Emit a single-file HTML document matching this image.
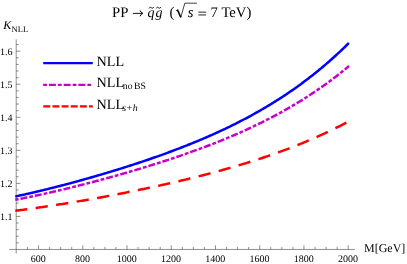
<!DOCTYPE html>
<html><head><meta charset="utf-8"><title>plot</title>
<style>
html,body{margin:0;padding:0;background:#fff;}
text{font-family:"Liberation Serif",serif;text-rendering:geometricPrecision;}
body{width:407px;height:264px;overflow:hidden;position:relative;font-family:"Liberation Serif",serif;}
</style></head><body>
<svg width="407" height="264" viewBox="0 0 407 264" style="position:absolute;left:0;top:0;will-change:transform">
<g stroke="#444" stroke-width="0.6" fill="none" shape-rendering="auto">
<line x1="9.20" y1="249.45" x2="354.90" y2="249.45"/>
<line x1="16.20" y1="39.30" x2="16.20" y2="253.50"/>
<line x1="27.49" y1="249.45" x2="27.49" y2="246.95"/>
<line x1="38.55" y1="249.45" x2="38.55" y2="245.25"/>
<line x1="49.61" y1="249.45" x2="49.61" y2="246.95"/>
<line x1="60.67" y1="249.45" x2="60.67" y2="246.95"/>
<line x1="71.73" y1="249.45" x2="71.73" y2="246.95"/>
<line x1="82.79" y1="249.45" x2="82.79" y2="245.25"/>
<line x1="93.84" y1="249.45" x2="93.84" y2="246.95"/>
<line x1="104.90" y1="249.45" x2="104.90" y2="246.95"/>
<line x1="115.96" y1="249.45" x2="115.96" y2="246.95"/>
<line x1="127.02" y1="249.45" x2="127.02" y2="245.25"/>
<line x1="138.08" y1="249.45" x2="138.08" y2="246.95"/>
<line x1="149.14" y1="249.45" x2="149.14" y2="246.95"/>
<line x1="160.20" y1="249.45" x2="160.20" y2="246.95"/>
<line x1="171.26" y1="249.45" x2="171.26" y2="245.25"/>
<line x1="182.32" y1="249.45" x2="182.32" y2="246.95"/>
<line x1="193.38" y1="249.45" x2="193.38" y2="246.95"/>
<line x1="204.43" y1="249.45" x2="204.43" y2="246.95"/>
<line x1="215.49" y1="249.45" x2="215.49" y2="245.25"/>
<line x1="226.55" y1="249.45" x2="226.55" y2="246.95"/>
<line x1="237.61" y1="249.45" x2="237.61" y2="246.95"/>
<line x1="248.67" y1="249.45" x2="248.67" y2="246.95"/>
<line x1="259.73" y1="249.45" x2="259.73" y2="245.25"/>
<line x1="270.79" y1="249.45" x2="270.79" y2="246.95"/>
<line x1="281.85" y1="249.45" x2="281.85" y2="246.95"/>
<line x1="292.91" y1="249.45" x2="292.91" y2="246.95"/>
<line x1="303.96" y1="249.45" x2="303.96" y2="245.25"/>
<line x1="315.02" y1="249.45" x2="315.02" y2="246.95"/>
<line x1="326.08" y1="249.45" x2="326.08" y2="246.95"/>
<line x1="337.14" y1="249.45" x2="337.14" y2="246.95"/>
<line x1="348.20" y1="249.45" x2="348.20" y2="245.25"/>
<line x1="16.20" y1="242.84" x2="18.70" y2="242.84"/>
<line x1="16.20" y1="236.23" x2="18.70" y2="236.23"/>
<line x1="16.20" y1="229.62" x2="18.70" y2="229.62"/>
<line x1="16.20" y1="223.02" x2="18.70" y2="223.02"/>
<line x1="16.20" y1="216.41" x2="20.40" y2="216.41"/>
<line x1="16.20" y1="209.80" x2="18.70" y2="209.80"/>
<line x1="16.20" y1="203.19" x2="18.70" y2="203.19"/>
<line x1="16.20" y1="196.58" x2="18.70" y2="196.58"/>
<line x1="16.20" y1="189.98" x2="18.70" y2="189.98"/>
<line x1="16.20" y1="183.37" x2="20.40" y2="183.37"/>
<line x1="16.20" y1="176.76" x2="18.70" y2="176.76"/>
<line x1="16.20" y1="170.15" x2="18.70" y2="170.15"/>
<line x1="16.20" y1="163.54" x2="18.70" y2="163.54"/>
<line x1="16.20" y1="156.93" x2="18.70" y2="156.93"/>
<line x1="16.20" y1="150.32" x2="20.40" y2="150.32"/>
<line x1="16.20" y1="143.72" x2="18.70" y2="143.72"/>
<line x1="16.20" y1="137.11" x2="18.70" y2="137.11"/>
<line x1="16.20" y1="130.50" x2="18.70" y2="130.50"/>
<line x1="16.20" y1="123.89" x2="18.70" y2="123.89"/>
<line x1="16.20" y1="117.28" x2="20.40" y2="117.28"/>
<line x1="16.20" y1="110.68" x2="18.70" y2="110.68"/>
<line x1="16.20" y1="104.07" x2="18.70" y2="104.07"/>
<line x1="16.20" y1="97.46" x2="18.70" y2="97.46"/>
<line x1="16.20" y1="90.85" x2="18.70" y2="90.85"/>
<line x1="16.20" y1="84.24" x2="20.40" y2="84.24"/>
<line x1="16.20" y1="77.63" x2="18.70" y2="77.63"/>
<line x1="16.20" y1="71.02" x2="18.70" y2="71.02"/>
<line x1="16.20" y1="64.42" x2="18.70" y2="64.42"/>
<line x1="16.20" y1="57.81" x2="18.70" y2="57.81"/>
<line x1="16.20" y1="51.20" x2="20.40" y2="51.20"/>
<line x1="16.20" y1="44.59" x2="18.70" y2="44.59"/>
</g>
<path d="M15.30 196.49 L16.70 196.19 L18.09 195.89 L19.49 195.59 L20.88 195.29 L22.28 194.98 L23.67 194.67 L25.07 194.36 L26.47 194.05 L27.86 193.73 L29.26 193.42 L30.65 193.10 L32.05 192.78 L33.45 192.45 L34.84 192.13 L36.24 191.80 L37.63 191.47 L39.03 191.14 L40.42 190.80 L41.82 190.47 L43.22 190.13 L44.61 189.79 L46.01 189.45 L47.40 189.11 L48.80 188.76 L50.20 188.41 L51.59 188.06 L52.99 187.71 L54.38 187.36 L55.78 187.01 L57.17 186.65 L58.57 186.29 L59.97 185.93 L61.36 185.57 L62.76 185.21 L64.15 184.84 L65.55 184.47 L66.95 184.10 L68.34 183.73 L69.74 183.36 L71.13 182.99 L72.53 182.61 L73.92 182.23 L75.32 181.86 L76.72 181.47 L78.11 181.09 L79.51 180.71 L80.90 180.32 L82.30 179.93 L83.69 179.55 L85.09 179.15 L86.49 178.76 L87.88 178.37 L89.28 177.97 L90.67 177.57 L92.07 177.18 L93.47 176.77 L94.86 176.37 L96.26 175.97 L97.65 175.56 L99.05 175.15 L100.44 174.74 L101.84 174.33 L103.24 173.92 L104.63 173.50 L106.03 173.09 L107.42 172.67 L108.82 172.25 L110.22 171.83 L111.61 171.40 L113.01 170.98 L114.40 170.55 L115.80 170.12 L117.19 169.69 L118.59 169.26 L119.99 168.83 L121.38 168.39 L122.78 167.95 L124.17 167.51 L125.57 167.07 L126.97 166.62 L128.36 166.18 L129.76 165.73 L131.15 165.28 L132.55 164.83 L133.94 164.37 L135.34 163.92 L136.74 163.46 L138.13 163.00 L139.53 162.54 L140.92 162.07 L142.32 161.60 L143.72 161.13 L145.11 160.66 L146.51 160.19 L147.90 159.71 L149.30 159.24 L150.69 158.76 L152.09 158.27 L153.49 157.79 L154.88 157.30 L156.28 156.81 L157.67 156.32 L159.07 155.82 L160.46 155.32 L161.86 154.82 L163.26 154.32 L164.65 153.82 L166.05 153.31 L167.44 152.80 L168.84 152.28 L170.24 151.77 L171.63 151.25 L173.03 150.73 L174.42 150.20 L175.82 149.67 L177.21 149.14 L178.61 148.61 L180.01 148.07 L181.40 147.53 L182.80 146.99 L184.19 146.44 L185.59 145.89 L186.99 145.34 L188.38 144.78 L189.78 144.22 L191.17 143.66 L192.57 143.09 L193.96 142.52 L195.36 141.95 L196.76 141.37 L198.15 140.79 L199.55 140.21 L200.94 139.62 L202.34 139.03 L203.74 138.44 L205.13 137.84 L206.53 137.23 L207.92 136.63 L209.32 136.01 L210.71 135.40 L212.11 134.78 L213.51 134.16 L214.90 133.53 L216.30 132.90 L217.69 132.26 L219.09 131.62 L220.48 130.97 L221.88 130.32 L223.28 129.67 L224.67 129.01 L226.07 128.35 L227.46 127.68 L228.86 127.01 L230.26 126.33 L231.65 125.64 L233.05 124.96 L234.44 124.26 L235.84 123.57 L237.23 122.86 L238.63 122.15 L240.03 121.44 L241.42 120.72 L242.82 119.99 L244.21 119.26 L245.61 118.53 L247.01 117.79 L248.40 117.04 L249.80 116.29 L251.19 115.53 L252.59 114.76 L253.98 113.99 L255.38 113.21 L256.78 112.43 L258.17 111.64 L259.57 110.85 L260.96 110.04 L262.36 109.24 L263.76 108.42 L265.15 107.60 L266.55 106.77 L267.94 105.94 L269.34 105.09 L270.73 104.24 L272.13 103.39 L273.53 102.53 L274.92 101.66 L276.32 100.78 L277.71 99.89 L279.11 99.00 L280.51 98.10 L281.90 97.20 L283.30 96.28 L284.69 95.36 L286.09 94.43 L287.48 93.49 L288.88 92.54 L290.28 91.59 L291.67 90.63 L293.07 89.66 L294.46 88.68 L295.86 87.69 L297.25 86.70 L298.65 85.69 L300.05 84.68 L301.44 83.66 L302.84 82.63 L304.23 81.59 L305.63 80.54 L307.03 79.48 L308.42 78.41 L309.82 77.34 L311.21 76.25 L312.61 75.16 L314.00 74.05 L315.40 72.94 L316.80 71.81 L318.19 70.68 L319.59 69.53 L320.98 68.38 L322.38 67.21 L323.78 66.04 L325.17 64.85 L326.57 63.66 L327.96 62.45 L329.36 61.23 L330.75 60.01 L332.15 58.77 L333.55 57.52 L334.94 56.25 L336.34 54.98 L337.73 53.70 L339.13 52.40 L340.53 51.10 L341.92 49.78 L343.32 48.45 L344.71 47.10 L346.11 45.75 L347.50 44.38 L348.90 43.00" fill="none" stroke="#0000ff" stroke-width="2.5" stroke-linejoin="round"/>
<path d="M15.30 199.74 L16.70 199.48 L18.09 199.21 L19.49 198.94 L20.88 198.67 L22.28 198.40 L23.68 198.12 L25.07 197.84 L26.47 197.56 L27.87 197.28 L29.26 196.99 L30.66 196.70 L32.05 196.41 L33.45 196.12 L34.85 195.83 L36.24 195.53 L37.64 195.23 L39.04 194.93 L40.43 194.63 L41.83 194.32 L43.22 194.02 L44.62 193.71 L46.02 193.40 L47.41 193.09 L48.81 192.77 L50.21 192.46 L51.60 192.14 L53.00 191.82 L54.39 191.50 L55.79 191.17 L57.19 190.85 L58.58 190.52 L59.98 190.19 L61.38 189.86 L62.77 189.53 L64.17 189.20 L65.56 188.86 L66.96 188.52 L68.36 188.18 L69.75 187.84 L71.15 187.50 L72.55 187.16 L73.94 186.81 L75.34 186.46 L76.73 186.11 L78.13 185.76 L79.53 185.41 L80.92 185.06 L82.32 184.70 L83.72 184.35 L85.11 183.99 L86.51 183.63 L87.90 183.27 L89.30 182.91 L90.70 182.54 L92.09 182.18 L93.49 181.81 L94.89 181.44 L96.28 181.07 L97.68 180.70 L99.07 180.33 L100.47 179.95 L101.87 179.57 L103.26 179.20 L104.66 178.82 L106.06 178.44 L107.45 178.05 L108.85 177.67 L110.24 177.28 L111.64 176.90 L113.04 176.51 L114.43 176.12 L115.83 175.73 L117.23 175.33 L118.62 174.94 L120.02 174.54 L121.41 174.15 L122.81 173.75 L124.21 173.35 L125.60 172.94 L127.00 172.54 L128.39 172.13 L129.79 171.73 L131.19 171.32 L132.58 170.91 L133.98 170.50 L135.38 170.08 L136.77 169.67 L138.17 169.25 L139.56 168.83 L140.96 168.41 L142.36 167.99 L143.75 167.56 L145.15 167.14 L146.55 166.71 L147.94 166.28 L149.34 165.85 L150.73 165.42 L152.13 164.98 L153.53 164.54 L154.92 164.10 L156.32 163.66 L157.72 163.22 L159.11 162.78 L160.51 162.33 L161.90 161.88 L163.30 161.43 L164.70 160.98 L166.09 160.52 L167.49 160.07 L168.89 159.61 L170.28 159.15 L171.68 158.68 L173.07 158.22 L174.47 157.75 L175.87 157.28 L177.26 156.80 L178.66 156.33 L180.06 155.85 L181.45 155.37 L182.85 154.89 L184.24 154.41 L185.64 153.92 L187.04 153.43 L188.43 152.94 L189.83 152.44 L191.23 151.94 L192.62 151.44 L194.02 150.94 L195.41 150.44 L196.81 149.93 L198.21 149.42 L199.60 148.90 L201.00 148.38 L202.40 147.86 L203.79 147.34 L205.19 146.82 L206.58 146.29 L207.98 145.75 L209.38 145.22 L210.77 144.68 L212.17 144.14 L213.57 143.59 L214.96 143.04 L216.36 142.49 L217.75 141.94 L219.15 141.38 L220.55 140.82 L221.94 140.25 L223.34 139.68 L224.74 139.11 L226.13 138.53 L227.53 137.95 L228.92 137.37 L230.32 136.78 L231.72 136.19 L233.11 135.59 L234.51 134.99 L235.91 134.39 L237.30 133.78 L238.70 133.17 L240.09 132.55 L241.49 131.93 L242.89 131.31 L244.28 130.68 L245.68 130.04 L247.07 129.40 L248.47 128.76 L249.87 128.11 L251.26 127.46 L252.66 126.80 L254.06 126.14 L255.45 125.48 L256.85 124.81 L258.24 124.13 L259.64 123.45 L261.04 122.76 L262.43 122.07 L263.83 121.37 L265.23 120.67 L266.62 119.96 L268.02 119.25 L269.41 118.53 L270.81 117.81 L272.21 117.08 L273.60 116.34 L275.00 115.60 L276.40 114.85 L277.79 114.10 L279.19 113.34 L280.58 112.58 L281.98 111.80 L283.38 111.03 L284.77 110.24 L286.17 109.45 L287.57 108.66 L288.96 107.86 L290.36 107.05 L291.75 106.23 L293.15 105.41 L294.55 104.58 L295.94 103.74 L297.34 102.90 L298.74 102.05 L300.13 101.19 L301.53 100.33 L302.92 99.46 L304.32 98.58 L305.72 97.69 L307.11 96.80 L308.51 95.90 L309.91 94.99 L311.30 94.07 L312.70 93.15 L314.09 92.21 L315.49 91.27 L316.89 90.32 L318.28 89.37 L319.68 88.40 L321.08 87.43 L322.47 86.45 L323.87 85.46 L325.26 84.46 L326.66 83.45 L328.06 82.44 L329.45 81.41 L330.85 80.38 L332.25 79.34 L333.64 78.28 L335.04 77.22 L336.43 76.15 L337.83 75.07 L339.23 73.98 L340.62 72.88 L342.02 71.77 L343.42 70.66 L344.81 69.53 L346.21 68.39 L347.60 67.24 L349.00 66.08" fill="none" stroke="#c800c8" stroke-width="2.5" stroke-dasharray="3.8 1.9 7.0 1.98" stroke-dashoffset="0.46"/>
<path d="M15.30 210.78 L16.69 210.60 L18.09 210.42 L19.48 210.24 L20.88 210.06 L22.27 209.87 L23.67 209.68 L25.06 209.50 L26.46 209.31 L27.85 209.12 L29.25 208.92 L30.64 208.73 L32.03 208.53 L33.43 208.34 L34.82 208.14 L36.22 207.94 L37.61 207.74 L39.01 207.54 L40.40 207.33 L41.80 207.13 L43.19 206.92 L44.59 206.71 L45.98 206.50 L47.37 206.29 L48.77 206.08 L50.16 205.87 L51.56 205.66 L52.95 205.44 L54.35 205.22 L55.74 205.01 L57.14 204.79 L58.53 204.57 L59.93 204.35 L61.32 204.12 L62.72 203.90 L64.11 203.67 L65.50 203.45 L66.90 203.22 L68.29 202.99 L69.69 202.76 L71.08 202.53 L72.48 202.30 L73.87 202.07 L75.27 201.83 L76.66 201.60 L78.06 201.36 L79.45 201.12 L80.84 200.89 L82.24 200.65 L83.63 200.40 L85.03 200.16 L86.42 199.92 L87.82 199.67 L89.21 199.43 L90.61 199.18 L92.00 198.93 L93.40 198.69 L94.79 198.44 L96.18 198.19 L97.58 197.93 L98.97 197.68 L100.37 197.43 L101.76 197.17 L103.16 196.91 L104.55 196.66 L105.95 196.40 L107.34 196.14 L108.74 195.88 L110.13 195.61 L111.52 195.35 L112.92 195.09 L114.31 194.82 L115.71 194.55 L117.10 194.29 L118.50 194.02 L119.89 193.75 L121.29 193.48 L122.68 193.20 L124.08 192.93 L125.47 192.65 L126.86 192.38 L128.26 192.10 L129.65 191.82 L131.05 191.54 L132.44 191.26 L133.84 190.98 L135.23 190.70 L136.63 190.41 L138.02 190.13 L139.42 189.84 L140.81 189.55 L142.21 189.26 L143.60 188.97 L144.99 188.68 L146.39 188.39 L147.78 188.09 L149.18 187.80 L150.57 187.50 L151.97 187.20 L153.36 186.90 L154.76 186.60 L156.15 186.30 L157.55 185.99 L158.94 185.69 L160.33 185.38 L161.73 185.07 L163.12 184.76 L164.52 184.45 L165.91 184.14 L167.31 183.82 L168.70 183.51 L170.10 183.19 L171.49 182.87 L172.89 182.55 L174.28 182.23 L175.67 181.90 L177.07 181.58 L178.46 181.25 L179.86 180.92 L181.25 180.59 L182.65 180.26 L184.04 179.93 L185.44 179.59 L186.83 179.26 L188.23 178.92 L189.62 178.58 L191.01 178.24 L192.41 177.89 L193.80 177.55 L195.20 177.20 L196.59 176.85 L197.99 176.50 L199.38 176.14 L200.78 175.79 L202.17 175.43 L203.57 175.07 L204.96 174.71 L206.35 174.35 L207.75 173.98 L209.14 173.61 L210.54 173.24 L211.93 172.87 L213.33 172.50 L214.72 172.12 L216.12 171.74 L217.51 171.36 L218.91 170.98 L220.30 170.60 L221.69 170.21 L223.09 169.82 L224.48 169.43 L225.88 169.04 L227.27 168.64 L228.67 168.25 L230.06 167.85 L231.46 167.46 L232.85 167.05 L234.25 166.65 L235.64 166.24 L237.04 165.83 L238.43 165.42 L239.82 165.01 L241.22 164.59 L242.61 164.17 L244.01 163.75 L245.40 163.32 L246.80 162.90 L248.19 162.46 L249.59 162.03 L250.98 161.59 L252.38 161.15 L253.77 160.71 L255.16 160.26 L256.56 159.82 L257.95 159.36 L259.35 158.91 L260.74 158.45 L262.14 157.99 L263.53 157.52 L264.93 157.06 L266.32 156.58 L267.72 156.11 L269.11 155.63 L270.50 155.15 L271.90 154.67 L273.29 154.18 L274.69 153.69 L276.08 153.19 L277.48 152.69 L278.87 152.19 L280.27 151.68 L281.66 151.17 L283.06 150.66 L284.45 150.14 L285.84 149.62 L287.24 149.09 L288.63 148.56 L290.03 148.03 L291.42 147.49 L292.82 146.95 L294.21 146.41 L295.61 145.86 L297.00 145.31 L298.40 144.75 L299.79 144.19 L301.18 143.62 L302.58 143.05 L303.97 142.47 L305.37 141.89 L306.76 141.31 L308.16 140.72 L309.55 140.13 L310.95 139.53 L312.34 138.93 L313.74 138.32 L315.13 137.71 L316.53 137.09 L317.92 136.47 L319.31 135.85 L320.71 135.22 L322.10 134.58 L323.50 133.94 L324.89 133.29 L326.29 132.64 L327.68 131.99 L329.08 131.32 L330.47 130.66 L331.87 129.98 L333.26 129.31 L334.65 128.62 L336.05 127.94 L337.44 127.24 L338.84 126.54 L340.23 125.84 L341.63 125.13 L343.02 124.41 L344.42 123.69 L345.81 122.96 L347.21 122.23 L348.60 121.49" fill="none" stroke="#ff0000" stroke-width="2.5" stroke-dasharray="12.3 8.46" stroke-dashoffset="0.26"/>
<line x1="43.2" y1="63.15" x2="92.8" y2="63.15" stroke="#0000ff" stroke-width="2.3"/>
<line x1="43.15" y1="84.9" x2="91" y2="84.9" stroke="#c800c8" stroke-width="2.4" stroke-dasharray="3.8 1.95 7.0 2.0"/>
<line x1="43.3" y1="106.35" x2="92.8" y2="106.35" stroke="#ff0000" stroke-width="2.4" stroke-dasharray="6.95 2.2"/>
<g class="t" fill="#000">
<text x="38.35" y="261.55" font-size="10" text-anchor="middle">600</text>
<text x="82.59" y="261.55" font-size="10" text-anchor="middle">800</text>
<text x="126.82" y="261.55" font-size="10" text-anchor="middle">1000</text>
<text x="171.06" y="261.55" font-size="10" text-anchor="middle">1200</text>
<text x="215.29" y="261.55" font-size="10" text-anchor="middle">1400</text>
<text x="259.53" y="261.55" font-size="10" text-anchor="middle">1600</text>
<text x="303.76" y="261.55" font-size="10" text-anchor="middle">1800</text>
<text x="348.00" y="261.55" font-size="10" text-anchor="middle">2000</text>
<text x="12.6" y="219.71" font-size="10" text-anchor="end">1.1</text>
<text x="12.6" y="186.67" font-size="10" text-anchor="end">1.2</text>
<text x="12.6" y="153.62" font-size="10" text-anchor="end">1.3</text>
<text x="12.6" y="120.58" font-size="10" text-anchor="end">1.4</text>
<text x="12.6" y="87.54" font-size="10" text-anchor="end">1.5</text>
<text x="12.6" y="54.50" font-size="10" text-anchor="end">1.6</text>
<text x="364" y="251.7" font-size="12">M[GeV]</text>
<text x="3.2" y="28.8" font-size="12" font-style="italic">K</text>
<text x="11.6" y="32" font-size="8.5">NLL</text>
<text x="96.5" y="65.8" font-size="14.2">NLL</text>
<text x="96.5" y="87.3" font-size="14.2">NLL</text>
<text x="122.8" y="88.9" font-size="9.7">no</text>
<text x="134.0" y="88.9" font-size="9.7">BS</text>
<text x="96.5" y="108.8" font-size="14.2">NLL</text>
<text x="122.3" y="110.7" font-size="9.8" font-style="italic">s+h</text>
<text x="112.0" y="16.7" font-size="14.7">PP</text>
<text x="147.6" y="16.7" font-size="14" font-style="italic">q</text>
<text x="155.4" y="16.7" font-size="14" font-style="italic">g</text>
<text x="169.6" y="16.7" font-size="14.7">(</text>
<text x="187.7" y="16.7" font-size="14.7" font-style="italic">s</text>
<text x="210.4" y="16.7" font-size="14.7">7</text>
<text x="221.4" y="16.7" font-size="14.7">TeV)</text>
</g>
<g stroke="#000" fill="none" stroke-width="0.8">
<path d="M132.9 13.4 H142.4" stroke-width="0.9"/>
<path d="M140.0 10.5 Q140.9 12.7 142.9 13.4 Q140.9 14.1 140.0 16.3" stroke-width="1.0" stroke-linejoin="miter"/>
<path d="M149.1 8.4 C149.5 7.2 150.4 6.9 151.35 7.7 S153.2 8.4 153.6 7.0" stroke-width="0.9"/>
<path d="M156.3 8.4 C156.7 7.2 157.6 6.9 158.55 7.7 S160.4 8.4 160.8 7.0" stroke-width="0.9"/>
<path d="M176 10.8 L177.5 9.8" stroke-width="0.7"/>
<path d="M177.4 9.6 L180.7 17.2" stroke-width="1.6"/>
<path d="M180.7 17.8 L184.8 3.2 H196.9" stroke-width="0.75" stroke-linejoin="miter"/>
<path d="M198.3 12.15 H206.1 M198.3 14.95 H206.1" stroke-width="0.85"/>
</g>
</svg>
</body></html>
